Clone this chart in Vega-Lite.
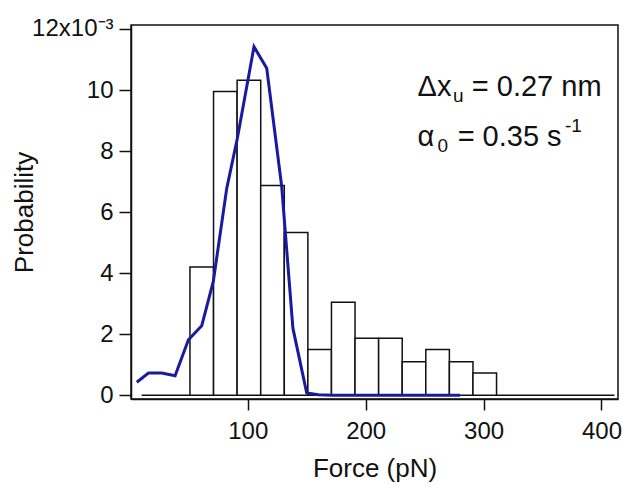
{
  "$schema": "https://vega.github.io/schema/vega-lite/v6.json",
  "autosize": "none",
  "width": 487,
  "height": 374,
  "padding": {"left": 131, "top": 25, "right": 8, "bottom": 90},
  "background": "white",
  "config": {
    "view": {"stroke": "#111", "strokeWidth": 1.5},
    "font": "Liberation Sans",
    "axis": {"domainColor": "#111", "domainWidth": 1.5, "tickColor": "#111", "tickWidth": 1.5, "labelColor": "#111", "titleColor": "#111", "grid": false, "labelFont": "Liberation Sans", "titleFont": "Liberation Sans", "titleFontWeight": "normal"}
  },
  "datasets": {
    "hist": [
      {"start": 51, "end": 71, "p": 4.2},
      {"start": 71, "end": 91, "p": 9.95},
      {"start": 91, "end": 111, "p": 10.32},
      {"start": 111, "end": 131, "p": 6.87},
      {"start": 131, "end": 151, "p": 5.33},
      {"start": 151, "end": 171, "p": 1.5},
      {"start": 171, "end": 191, "p": 3.05},
      {"start": 191, "end": 211, "p": 1.87},
      {"start": 211, "end": 231, "p": 1.87},
      {"start": 231, "end": 251, "p": 1.1},
      {"start": 251, "end": 271, "p": 1.5},
      {"start": 271, "end": 291, "p": 1.1},
      {"start": 291, "end": 311, "p": 0.73}
    ],
    "fit": [
      {"f": 5.9, "p": 0.43},
      {"f": 15.8, "p": 0.73},
      {"f": 27.1, "p": 0.73},
      {"f": 38.4, "p": 0.64},
      {"f": 49.7, "p": 1.82},
      {"f": 61, "p": 2.28},
      {"f": 70.8, "p": 3.73},
      {"f": 82.2, "p": 6.78},
      {"f": 91.2, "p": 8.42},
      {"f": 105.3, "p": 11.42},
      {"f": 116.1, "p": 10.71},
      {"f": 128.8, "p": 6.84},
      {"f": 138.3, "p": 2.2},
      {"f": 150, "p": 0.08},
      {"f": 160, "p": 0.02},
      {"f": 172, "p": 0},
      {"f": 280, "p": 0}
    ]
  },
  "layer": [
    {
      "data": {"values": [{"a": 10, "b": 411, "y": 0}]},
      "mark": {"type": "rule", "color": "#111", "strokeWidth": 1.5},
      "encoding": {
        "x": {"field": "a", "type": "quantitative", "scale": {"domain": [1, 414], "nice": false, "zero": false},
          "axis": {"values": [100, 200, 300, 400], "tickSize": 11, "labelFontSize": 24, "labelPadding": 9, "title": "Force (pN)", "titleFontSize": 26, "titlePadding": 12}},
        "x2": {"field": "b"},
        "y": {"field": "y", "type": "quantitative", "scale": {"domain": [-0.12, 12.13], "nice": false, "zero": false},
          "axis": {"values": [0, 1, 2, 3, 4, 5, 6, 7, 8, 9, 10, 11, 12], "tickSize": {"condition": {"test": "datum.value % 2 === 0", "value": 12}, "value": 6}, "labelExpr": "datum.value === 12 ? '12x10⁻³' : (datum.value % 2 === 0 ? datum.label : '')", "labelFontSize": 24, "labelPadding": 6, "title": "Probability", "titleFontSize": 26, "titlePadding": -6}}
      }
    },
    {
      "data": {"name": "hist"},
      "mark": {"type": "bar", "fill": "white", "stroke": "#111", "strokeWidth": 1.5},
      "encoding": {
        "x": {"field": "start", "type": "quantitative"},
        "x2": {"field": "end"},
        "y": {"field": "p", "type": "quantitative"},
        "y2": {"datum": 0}
      }
    },
    {
      "data": {"name": "fit"},
      "mark": {"type": "line", "color": "#1a1aa0", "strokeWidth": 3},
      "encoding": {
        "x": {"field": "f", "type": "quantitative"},
        "y": {"field": "p", "type": "quantitative"}
      }
    },
    {
      "data": {"values": [{}]},
      "mark": {"type": "text", "fontSize": 29, "align": "left", "baseline": "alphabetic", "color": "#111", "font": "Liberation Sans"},
      "encoding": {"x": {"datum": 244}, "y": {"datum": 9.8}, "text": {"value": "Δx"}}
    },
    {
      "data": {"values": [{}]},
      "mark": {"type": "text", "fontSize": 19, "align": "left", "baseline": "alphabetic", "color": "#111", "font": "Liberation Sans"},
      "encoding": {"x": {"datum": 274}, "y": {"datum": 9.62}, "text": {"value": "u"}}
    },
    {
      "data": {"values": [{}]},
      "mark": {"type": "text", "fontSize": 29, "align": "left", "baseline": "alphabetic", "color": "#111", "font": "Liberation Sans"},
      "encoding": {"x": {"datum": 290}, "y": {"datum": 9.8}, "text": {"value": "= 0.27 nm"}}
    },
    {
      "data": {"values": [{}]},
      "mark": {"type": "text", "fontSize": 29, "align": "left", "baseline": "alphabetic", "color": "#111", "font": "Liberation Sans"},
      "encoding": {"x": {"datum": 244}, "y": {"datum": 8.17}, "text": {"value": "α"}}
    },
    {
      "data": {"values": [{}]},
      "mark": {"type": "text", "fontSize": 19, "align": "left", "baseline": "alphabetic", "color": "#111", "font": "Liberation Sans"},
      "encoding": {"x": {"datum": 261}, "y": {"datum": 7.98}, "text": {"value": "0"}}
    },
    {
      "data": {"values": [{}]},
      "mark": {"type": "text", "fontSize": 29, "align": "left", "baseline": "alphabetic", "color": "#111", "font": "Liberation Sans"},
      "encoding": {"x": {"datum": 278}, "y": {"datum": 8.17}, "text": {"value": "= 0.35 s"}}
    },
    {
      "data": {"values": [{}]},
      "mark": {"type": "text", "fontSize": 19, "align": "left", "baseline": "alphabetic", "color": "#111", "font": "Liberation Sans"},
      "encoding": {"x": {"datum": 369}, "y": {"datum": 8.62}, "text": {"value": "-1"}}
    }
  ]
}
